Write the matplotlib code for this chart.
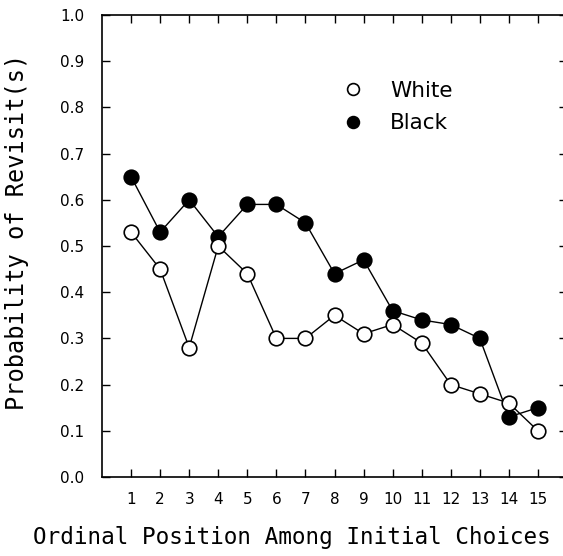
import numpy as np
import matplotlib
matplotlib.use("agg")
import matplotlib.pyplot as plt
from matplotlib.lines import Line2D

positions = list(range(1, 16))
white = [0.53, 0.45, 0.28, 0.50, 0.44, 0.30, 0.30, 0.35, 0.31, 0.33, 0.29, 0.20, 0.18, 0.16, 0.10]
black = [0.65, 0.53, 0.60, 0.52, 0.59, 0.59, 0.55, 0.44, 0.47, 0.36, 0.34, 0.33, 0.30, 0.13, 0.15]
y_ticks = [i / 10 for i in range(11)]

LABEL_FONT = "DejaVu Sans Mono"   # wide, evenly spaced letters like the scan

fig = plt.figure(figsize=(5.63, 5.56), dpi=100)
# right edge of the frame sits just outside the picture, as in the scan
ax = fig.add_axes([102 / 563, 79 / 556, 465 / 563, 462 / 556])

ax.plot(positions, white, color="black", lw=1.0, marker="o", ms=10.5,
        mfc="white", mec="black", mew=1.2, zorder=3)
ax.plot(positions, black, color="black", lw=1.0, marker="o", ms=10.5,
        mfc="black", mec="black", mew=1.2, zorder=2)

ax.set_xlim(0, 16)
ax.set_ylim(0, 1.0)
ax.set_xticks(positions)
ax.set_yticks(y_ticks)
ax.set_yticklabels([f"{v:.1f}" for v in y_ticks])
ax.tick_params(direction="in", length=6, width=1.0, top=True, right=True,
               labelsize=11)
ax.tick_params(axis="y", pad=13)
ax.tick_params(axis="x", pad=11)
for s in ax.spines.values():
    s.set_linewidth(1.2)

ax.set_ylabel("Probability of Revisit(s)", fontsize=17, family=LABEL_FONT, va="center")
ax.yaxis.set_label_coords(-0.183, 0.53)
# kept a little narrower than the scan so the last letter stays inside the picture
ax.set_xlabel("Ordinal Position Among Initial Choices", fontsize=16.3,
              family=LABEL_FONT, ha="left")
ax.xaxis.set_label_coords(-0.148, -0.105)

handles = [
    Line2D([], [], ls="none", marker="o", ms=8.5, mfc="white", mec="black", mew=1.2),
    Line2D([], [], ls="none", marker="o", ms=8.5, mfc="black", mec="black", mew=1.2),
]
ax.legend(handles, ["White", "Black"], loc="upper left",
          bbox_to_anchor=(0.476, 0.90), frameon=False, prop={"size": 15.5},
          handlelength=1.0, handletextpad=1.2, labelspacing=0.6)

fig.savefig("out.png", dpi=100)
